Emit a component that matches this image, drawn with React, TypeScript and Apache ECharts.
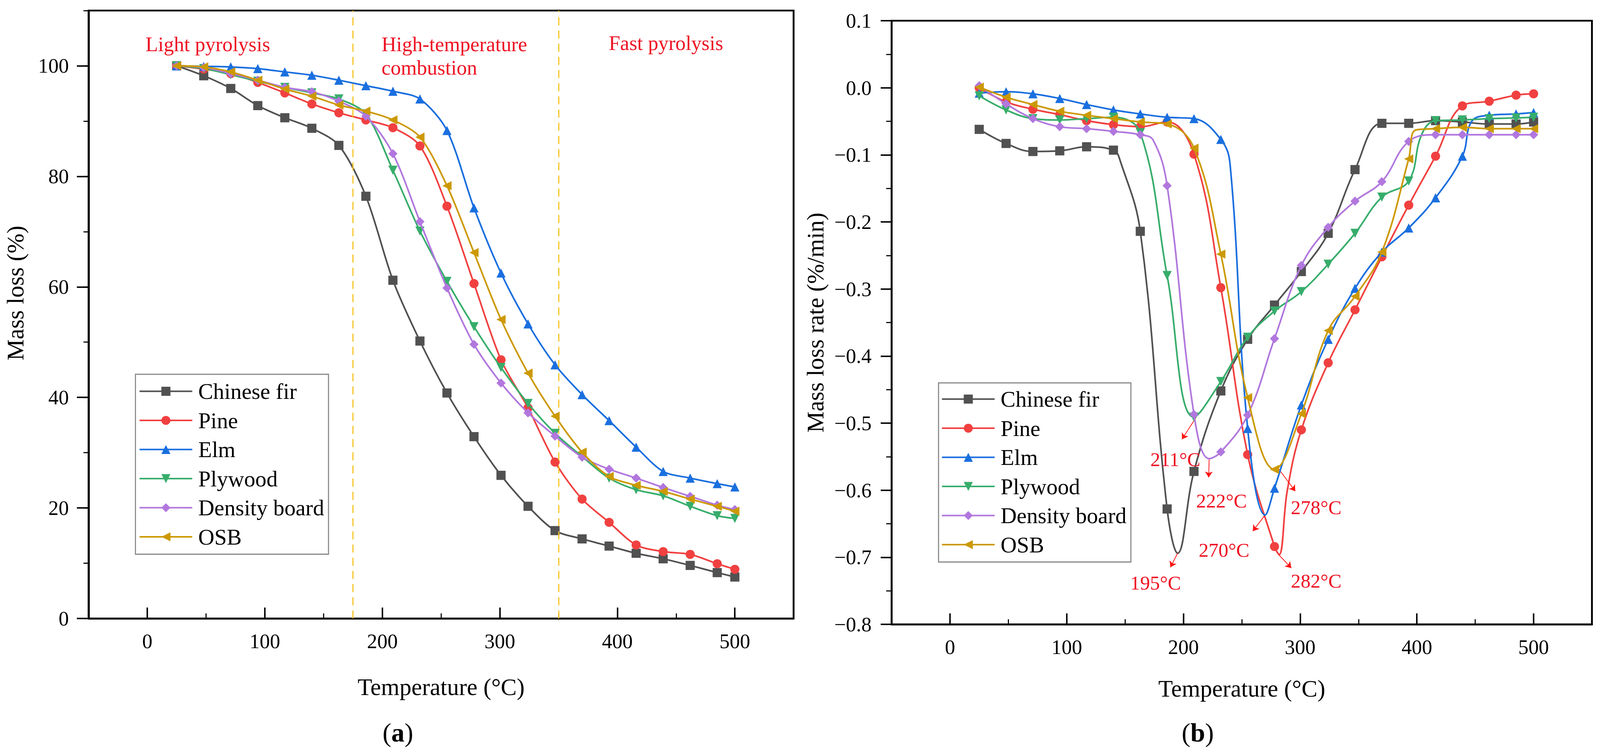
import React, { useEffect, useRef, useState } from "react";
import * as echarts from "echarts";

// ---------- data ----------
const temperatures = [25, 48, 71, 94, 117, 140, 163, 186, 209, 232, 255, 278, 301, 324, 347, 370, 393, 416, 439, 462, 485, 500];
const materials = ["Chinese fir", "Pine", "Elm", "Plywood", "Density board", "OSB"];

// (a) mass loss (%)
const lossChineseFir = [100, 98.2, 95.9, 92.8, 90.6, 88.7, 85.6, 76.4, 61.2, 50.2, 40.8, 32.9, 25.9, 20.3, 15.9, 14.4, 13.1, 11.8, 10.8, 9.6, 8.3, 7.5];
const lossPine = [100, 99.4, 98.6, 97.0, 95.1, 93.1, 91.5, 90.2, 88.8, 85.5, 74.6, 60.6, 46.8, 38.1, 28.3, 21.6, 17.4, 13.3, 12.1, 11.6, 9.9, 8.9];
const lossElm = [100, 99.9, 99.8, 99.5, 98.9, 98.3, 97.4, 96.4, 95.4, 94.0, 88.3, 74.3, 62.5, 53.3, 45.9, 40.5, 35.8, 31.0, 26.6, 25.4, 24.4, 23.8];
const lossPlywood = [100, 99.5, 98.4, 97.2, 96.1, 95.1, 94.0, 91.3, 81.1, 70.1, 61.0, 52.8, 45.4, 38.9, 33.5, 29.3, 25.4, 23.3, 22.2, 20.3, 18.6, 18.1];
const lossDensityBoard = [100, 99.7, 98.6, 97.4, 96.1, 95.3, 93.6, 90.9, 84.1, 71.8, 59.8, 49.6, 42.6, 37.2, 33.0, 29.2, 27.0, 25.4, 23.7, 22.1, 20.5, 19.7];
const lossOSB = [100, 99.8, 98.9, 97.4, 95.8, 94.5, 92.9, 91.8, 90.2, 87.1, 78.3, 66.2, 54.1, 44.4, 36.6, 30.1, 25.7, 24.1, 23.0, 21.6, 20.3, 19.4];

// (b) mass loss rate (%/min)
const rateChineseFir = [-0.062, -0.083, -0.095, -0.094, -0.088, -0.093, -0.214, -0.628, -0.572, -0.452, -0.375, -0.324, -0.274, -0.217, -0.122, -0.053, -0.053, -0.049, -0.051, -0.054, -0.054, -0.051];
const ratePine = [0.0, -0.021, -0.032, -0.040, -0.049, -0.055, -0.058, -0.051, -0.099, -0.298, -0.547, -0.684, -0.510, -0.410, -0.331, -0.252, -0.175, -0.102, -0.027, -0.020, -0.011, -0.009];
const rateElm = [-0.008, -0.006, -0.009, -0.016, -0.025, -0.033, -0.039, -0.044, -0.046, -0.077, -0.508, -0.597, -0.473, -0.375, -0.299, -0.245, -0.209, -0.164, -0.102, -0.041, -0.039, -0.037];
const ratePlywood = [-0.012, -0.033, -0.046, -0.048, -0.046, -0.044, -0.067, -0.280, -0.491, -0.438, -0.372, -0.333, -0.304, -0.263, -0.217, -0.163, -0.139, -0.049, -0.048, -0.046, -0.045, -0.044];
const rateDensityBoard = [0.003, -0.024, -0.046, -0.058, -0.061, -0.065, -0.070, -0.146, -0.487, -0.543, -0.488, -0.374, -0.265, -0.208, -0.169, -0.140, -0.080, -0.070, -0.070, -0.070, -0.070, -0.070];
const rateOSB = [0.001, -0.014, -0.025, -0.035, -0.041, -0.046, -0.051, -0.054, -0.090, -0.248, -0.462, -0.569, -0.486, -0.362, -0.311, -0.245, -0.106, -0.061, -0.059, -0.061, -0.061, -0.061];

// extra curve points read between markers (drawn on the curve, no marker)
const extraTempChineseFir = [146, 195];
const extraRateChineseFir = [-0.11, -0.694];
const extraTempPine = [282, 289];
const extraRatePine = [-0.696, -0.6];
const extraTempElm = [240, 270, 447];
const extraRateElm = [-0.115, -0.637, -0.05];
const extraTempPlywood = [404];
const extraRatePlywood = [-0.07];
const extraTempDensityBoard = [174, 222];
const extraRateDensityBoard = [-0.078, -0.553];
const extraTempOSB = [399];
const extraRateOSB = [-0.063];

// stage boundaries (a)
const stageBounds = [175, 350];
const stageNames = ["Light pyrolysis", "High-temperature\ncombustion", "Fast pyrolysis"];
// peak temperature labels (b)
const peakLabels = ["195°C", "211°C", "222°C", "270°C", "278°C", "282°C"];

// axis ticks
const xMajorTicks = [0, 100, 200, 300, 400, 500];
const lossMajorTicks = [0, 20, 40, 60, 80, 100];

// ---------- layout / style ----------
const REF_W = 4371;
const REF_H = 1935;
const FONT = '"Times New Roman", "Liberation Serif", serif';
const colors = ["#515151", "#F14040", "#1A6FDF", "#37AD6B", "#B177DE", "#CC9900"];
const symbols = ["rect", "circle", "triangle", "triangle", "diamond", "triangle"];
const symbolRotates = [0, 0, 0, 180, 0, 90];
const RED = "#EE1122";

const stageLabelPos = [[51.5, 103.9], [199.3, 101.8], [441.4, 104.1]];
const peakArrowFrom = [[195, -0.694], [211, -0.491], [222, -0.554], [270, -0.637], [281, -0.567], [281.5, -0.696]];
const peakArrowTo = [[188.8, -0.715], [198.7, -0.524], [221.6, -0.581], [259.4, -0.661], [295.8, -0.6015], [292.4, -0.716]];
const peakLabelPos = [[176.1, -0.7385], [193.1, -0.554], [232.6, -0.6157], [234.8, -0.6893], [313.7, -0.626], [313.7, -0.7356]];

function buildData(t: number[], v: number[], et: number[] = [], ev: number[] = []) {
  const pts: any[] = t.map((x, i) => ({ value: [x, v[i]] }));
  et.forEach((x, i) => pts.push({ value: [x, ev[i]], symbol: "none" }));
  pts.sort((a, b) => a.value[0] - b.value[0]);
  return pts;
}

const lossSets = [lossChineseFir, lossPine, lossElm, lossPlywood, lossDensityBoard, lossOSB];
const rateSets = [rateChineseFir, ratePine, rateElm, ratePlywood, rateDensityBoard, rateOSB];
const extraT = [extraTempChineseFir, extraTempPine, extraTempElm, extraTempPlywood, extraTempDensityBoard, extraTempOSB];
const extraV = [extraRateChineseFir, extraRatePine, extraRateElm, extraRatePlywood, extraRateDensityBoard, extraRateOSB];

function makeOption(kx: number, ky: number) {
  const kf = Math.min(kx, ky);
  const X = (v: number) => v * kx;
  const Y = (v: number) => v * ky;
  const F = (v: number) => v * kf;

  const tickLabelStyle = { fontSize: F(56), color: "#000", fontFamily: FONT };
  const nameStyle = { fontSize: F(65), color: "#000", fontFamily: FONT };

  const xAxes = (grid: number, nameGap: number) => [
    {
      gridIndex: grid, type: "value", position: "bottom", min: -50, max: 550, interval: 50,
      axisLine: { onZero: false, lineStyle: { color: "#000", width: F(5) } },
      axisTick: { inside: true, length: Y(13), lineStyle: { color: "#000", width: F(3) } },
      axisLabel: { ...tickLabelStyle, margin: Y(32), customValues: xMajorTicks, formatter: (v: number) => (v % 100 === 0 ? String(v) : "") },
      splitLine: { show: false },
      name: "Temperature (°C)", nameLocation: "middle", nameGap: Y(nameGap), nameTextStyle: nameStyle,
    },
    {
      gridIndex: grid, type: "value", position: "bottom", min: -50, max: 550, interval: 50,
      axisLine: { show: false, onZero: false },
      axisTick: { inside: true, length: Y(28), customValues: xMajorTicks, lineStyle: { color: "#000", width: F(4) } },
      axisLabel: { show: false },
      splitLine: { show: false },
    },
  ];

  const series: any[] = [];
  materials.forEach((name, i) => {
    const s: any = {
      name, type: "line", xAxisIndex: 0, yAxisIndex: 0,
      data: buildData(temperatures, lossSets[i]),
      symbol: symbols[i], symbolRotate: symbolRotates[i], symbolSize: F(25),
      smooth: 0.3,
      lineStyle: { color: colors[i], width: F(4.5) },
      itemStyle: { color: colors[i] },
      z: 3 + i,
    };
    if (i === 0) {
      s.markLine = {
        silent: true, symbol: "none", label: { show: false },
        lineStyle: { color: "#F7C21B", type: [F(22), F(14)], width: F(3) },
        data: stageBounds.map((b) => ({ xAxis: b })),
      };
      s.markPoint = {
        silent: true, symbol: "circle", symbolSize: 1,
        itemStyle: { color: "rgba(0,0,0,0)" },
        label: { show: true, position: "inside", formatter: "{b}", color: RED, fontSize: F(56), fontFamily: FONT, lineHeight: F(65) },
        data: stageNames.map((n, k) => ({
          name: n, coord: stageLabelPos[k],
          label: k === 1 ? { align: "left" } : {},
        })),
      };
    }
    series.push(s);
  });
  materials.forEach((name, i) => {
    const s: any = {
      name, type: "line", xAxisIndex: 2, yAxisIndex: 2,
      data: buildData(temperatures, rateSets[i], extraT[i], extraV[i]),
      symbol: symbols[i], symbolRotate: symbolRotates[i], symbolSize: F(25),
      smooth: 0.4,
      lineStyle: { color: colors[i], width: F(4.5) },
      itemStyle: { color: colors[i] },
      z: 3 + i,
    };
    if (i === 0) {
      s.markLine = {
        silent: true, symbol: ["none", "arrow"], symbolSize: F(16), label: { show: false },
        lineStyle: { color: "#FF1010", type: "solid", width: F(2) },
        data: peakArrowFrom.map((p, k) => [{ coord: p }, { coord: peakArrowTo[k] }]),
      };
      s.markPoint = {
        silent: true, symbol: "circle", symbolSize: 1,
        itemStyle: { color: "rgba(0,0,0,0)" },
        label: { show: true, position: "inside", formatter: "{b}", color: RED, fontSize: F(54), fontFamily: FONT },
        data: peakLabels.map((n, k) => ({ name: n, coord: peakLabelPos[k] })),
      };
    }
    series.push(s);
  });

  const legendCommon = {
    orient: "vertical", itemWidth: X(144), itemHeight: F(31), itemGap: Y(17.5),
    borderColor: "#888", borderWidth: F(3), backgroundColor: "#fff",
    selectedMode: false,
    lineStyle: { width: F(4.5) },
    textStyle: { fontSize: F(61), color: "#000", fontFamily: FONT, padding: [0, 0, 0, X(11)] },
    data: materials,
  };

  const rateFmt = (v: number) => {
    const r = Math.round(v * 10) / 10;
    return (r < 0 ? "\u2212" : "") + Math.abs(r).toFixed(1);
  };

  const richAB = {
    n: { fontSize: F(72), fontFamily: FONT, fill: "#000" },
    b: { fontSize: F(72), fontFamily: FONT, fontWeight: "bold", fill: "#000" },
  };

  return {
    animation: false,
    backgroundColor: "#fff",
    textStyle: { fontFamily: FONT },
    grid: [
      { left: X(242), top: Y(27), width: X(1926), height: Y(1556), show: true, borderColor: "#000", borderWidth: F(5), containLabel: false },
      { left: X(2436), top: Y(53), width: X(1913), height: Y(1545), show: true, borderColor: "#000", borderWidth: F(5), containLabel: false },
    ],
    xAxis: [...xAxes(0, 145), ...xAxes(1, 134)],
    yAxis: [
      {
        gridIndex: 0, type: "value", position: "left", min: 0, max: 110, interval: 10,
        axisLine: { onZero: false, lineStyle: { color: "#000", width: F(5) } },
        axisTick: { length: X(14), lineStyle: { color: "#000", width: F(3) } },
        axisLabel: { ...tickLabelStyle, margin: X(54), customValues: lossMajorTicks, formatter: (v: number) => (v % 20 === 0 && v <= 100 ? String(v) : "") },
        splitLine: { show: false },
        name: "Mass loss (%)", nameLocation: "middle", nameGap: X(167),
        nameTextStyle: { ...nameStyle, padding: [0, 0, 0, Y(110)] },
      },
      {
        gridIndex: 0, type: "value", position: "left", min: 0, max: 110, interval: 10,
        axisLine: { show: false, onZero: false },
        axisTick: { length: X(32), customValues: lossMajorTicks, lineStyle: { color: "#000", width: F(4) } },
        axisLabel: { show: false },
        splitLine: { show: false },
      },
      {
        gridIndex: 1, type: "value", position: "left", min: -0.8, max: 0.1, interval: 0.1,
        axisLine: { onZero: false, lineStyle: { color: "#000", width: F(5) } },
        axisTick: { length: X(30), lineStyle: { color: "#000", width: F(4) } },
        minorTick: { show: true, splitNumber: 2, length: X(15), lineStyle: { color: "#000", width: F(3) } },
        axisLabel: { ...tickLabelStyle, margin: X(55), formatter: rateFmt },
        splitLine: { show: false },
        minorSplitLine: { show: false },
        name: "Mass loss rate (%/min)", nameLocation: "middle", nameGap: X(176), nameTextStyle: nameStyle,
      },
    ],
    legend: [
      { ...legendCommon, left: X(370), top: Y(958), padding: [Y(15), X(12), Y(16), X(9)] },
      { ...legendCommon, left: X(2564), top: Y(980), padding: [Y(13), X(12), Y(16), X(7)] },
    ],
    graphic: [
      { type: "text", x: X(1087), y: Y(1875), silent: true, style: { text: "{n|(}{b|a}{n|)}", align: "center", verticalAlign: "middle", rich: richAB } },
      { type: "text", x: X(3272), y: Y(1875), silent: true, style: { text: "{n|(}{b|b}{n|)}", align: "center", verticalAlign: "middle", rich: richAB } },
    ],
    series,
  };
}

function App() {
  const ref = useRef<HTMLDivElement>(null);
  const [size] = useState(() => {
    const w = Math.min(window.innerWidth || REF_W, REF_W);
    const h = Math.min(window.innerHeight || REF_H, REF_H);
    return { w, h };
  });
  useEffect(() => {
    document.body.style.margin = "0";
    document.body.style.overflow = "hidden";
    const chart = echarts.init(ref.current!, null, { renderer: "svg" });
    chart.setOption(makeOption(size.w / REF_W, size.h / REF_H) as any);
    return () => chart.dispose();
  }, []);
  return <div ref={ref} style={{ width: size.w, height: size.h }} />;
}

export default App;
